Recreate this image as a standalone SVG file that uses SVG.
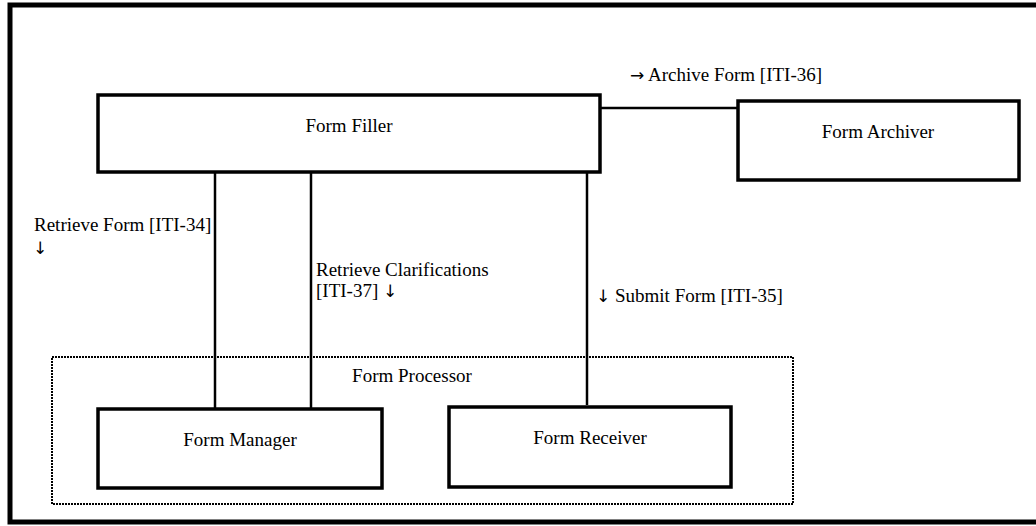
<svg xmlns="http://www.w3.org/2000/svg" width="1036" height="526" viewBox="0 0 1036 526">
<style>
text{font-family:"Liberation Serif","Times New Roman",serif;font-size:19px;fill:#000}
.ar{font-family:"DejaVu Sans",sans-serif;font-size:17px}
.box{fill:#fff;stroke:#000;stroke-width:3.5}
.c{text-anchor:middle}
.conn{stroke:#000;stroke-width:2.5;fill:none}
</style>
<rect width="1036" height="526" fill="#fff"/>
<rect id="frame" x="10" y="5" width="1040" height="517" fill="none" stroke="#000" stroke-width="5"/>
<g id="form-processor">
<rect x="52" y="357" width="741" height="147" fill="none" stroke="#000" stroke-width="2" stroke-dasharray="2,1"/>
<text x="412" y="382" class="c">Form Processor</text>
</g>
<g id="connectors">
<line class="conn" x1="600" y1="108" x2="738" y2="108"/>
<line class="conn" x1="215" y1="172" x2="215" y2="409"/>
<line class="conn" x1="311" y1="172" x2="311" y2="409"/>
<line class="conn" x1="587" y1="172" x2="587" y2="405"/>
<text x="630" y="81"><tspan class="ar">→</tspan> Archive Form [ITI-36]</text>
<text x="34" y="231">Retrieve Form [ITI-34]</text>
<text x="33" y="254" class="ar">↓</text>
<text x="316" y="276">Retrieve Clarifications</text>
<text x="316" y="297">[ITI-37] <tspan class="ar">↓</tspan></text>
<text x="596" y="302"><tspan class="ar">↓</tspan> Submit Form [ITI-35]</text>
</g>
<g id="form-filler">
<rect class="box" x="98" y="95" width="502" height="77"/>
<text x="349" y="132" class="c">Form Filler</text>
</g>
<g id="form-archiver">
<rect class="box" x="738" y="101" width="281" height="79"/>
<text x="878" y="138" class="c">Form Archiver</text>
</g>
<g id="form-manager">
<rect class="box" x="98" y="409" width="284" height="79"/>
<text x="240" y="446" class="c">Form Manager</text>
</g>
<g id="form-receiver">
<rect class="box" x="449" y="407" width="282" height="80"/>
<text x="590" y="444" class="c">Form Receiver</text>
</g>
</svg>
